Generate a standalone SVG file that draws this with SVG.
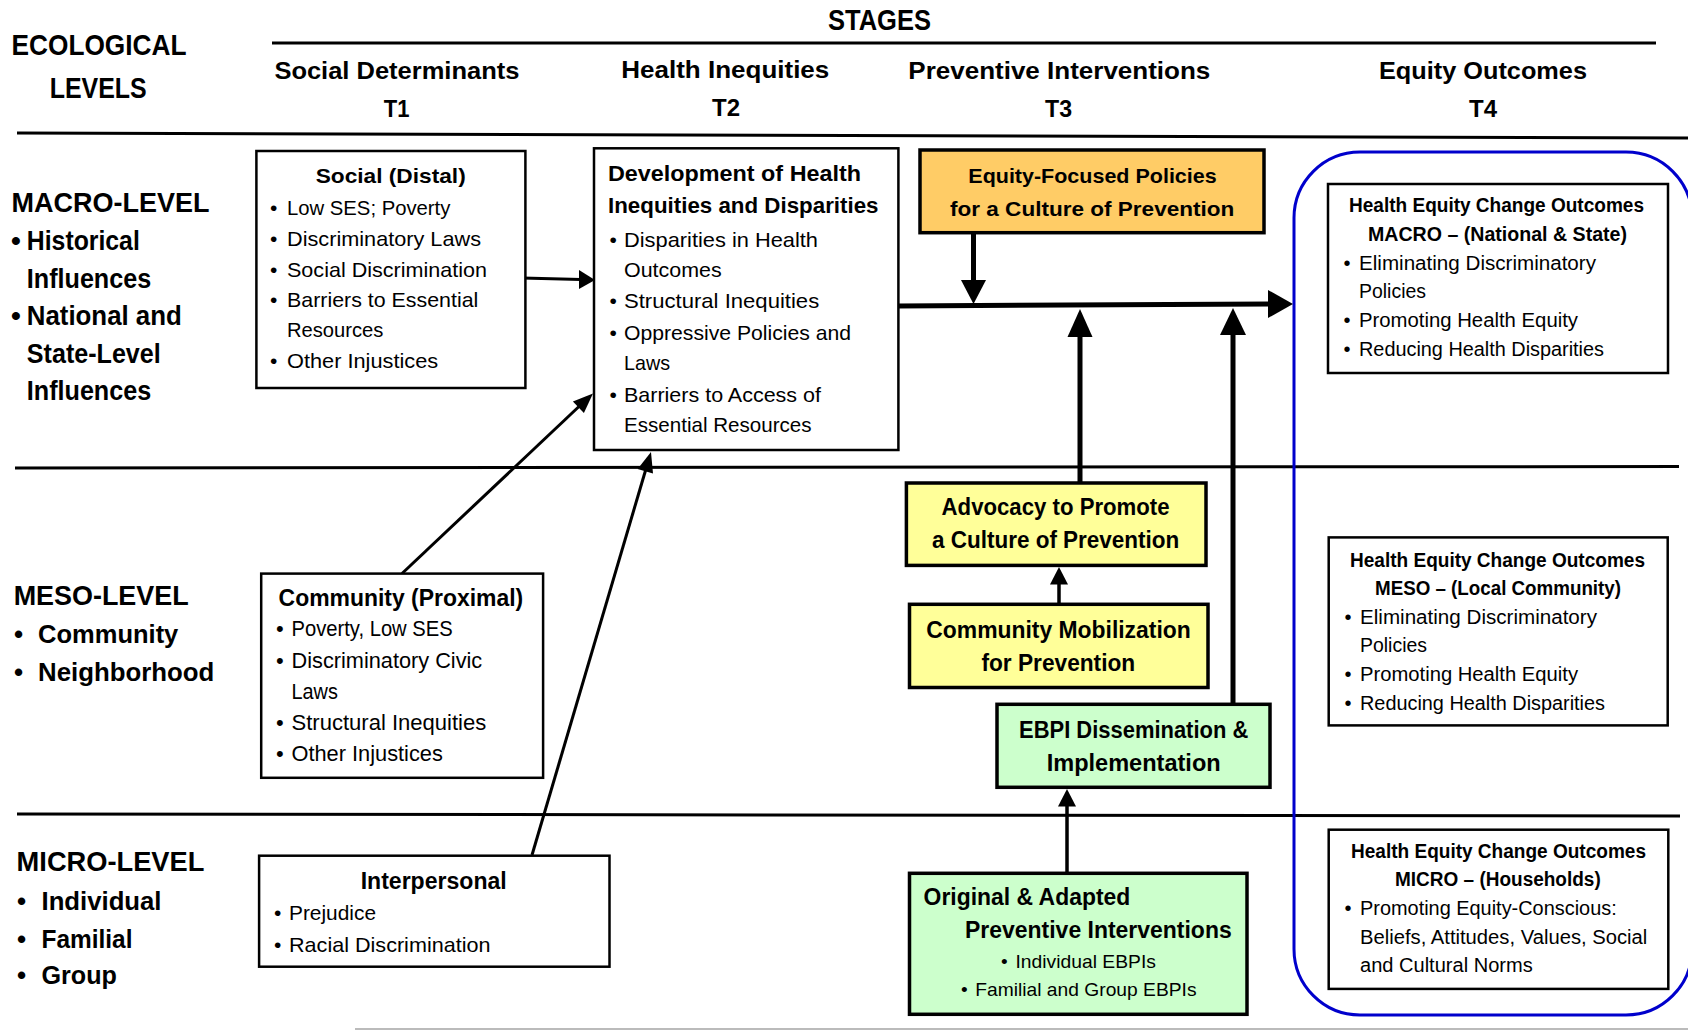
<svg xmlns="http://www.w3.org/2000/svg" width="1688" height="1030" viewBox="0 0 1688 1030">
<style>
text{font-family:"Liberation Sans",Arial,sans-serif;fill:#000}
.b{font-weight:bold}
.h1{font-size:30px;font-weight:bold}
.h2{font-size:24.5px;font-weight:bold}
.lv{font-size:28px;font-weight:bold}
.lb{font-size:26px;font-weight:bold}
.t21{font-size:21px}
.t22{font-size:22px}
.t20{font-size:20px}
.t19{font-size:19px}
.t23b{font-size:23px;font-weight:bold}
.t22b{font-size:22px;font-weight:bold}
.t21b{font-size:21px;font-weight:bold}
.t20b{font-size:20px;font-weight:bold}
.box{fill:#fff;stroke:#000;stroke-width:2.5}
.cbox{stroke:#000;stroke-width:3.5}
.rule{stroke:#000;stroke-width:3;fill:none}
.conn line{stroke:#000}
.conn polygon{fill:#000;stroke:none}
</style>

<!-- rules -->
<g id="rules">
<line class="rule" x1="272" y1="43" x2="1656" y2="43"/>
<line class="rule" x1="17" y1="133" x2="1688" y2="138"/>
<line class="rule" x1="15" y1="468" x2="1679" y2="466.5"/>
<line class="rule" x1="17" y1="814" x2="1680" y2="816"/>
<line x1="355" y1="1029" x2="1688" y2="1029" stroke="#bbbbbb" stroke-width="2"/>
</g>

<!-- headers -->
<g id="header-ecological">
<text class="h1" x="11.5" y="55" textLength="175" lengthAdjust="spacingAndGlyphs">ECOLOGICAL</text>
<text class="h1" x="49.7" y="98.3" textLength="97" lengthAdjust="spacingAndGlyphs">LEVELS</text>
</g>
<g id="header-stages">
<text class="h1" x="828" y="30" textLength="103" lengthAdjust="spacingAndGlyphs">STAGES</text>
</g>
<g id="header-t1">
<text class="h2" x="274.4" y="79" textLength="245" lengthAdjust="spacingAndGlyphs">Social Determinants</text>
<text class="h2" x="383.8" y="117" textLength="25.7" lengthAdjust="spacingAndGlyphs">T1</text>
</g>
<g id="header-t2">
<text class="h2" x="621.3" y="78" textLength="208" lengthAdjust="spacingAndGlyphs">Health Inequities</text>
<text class="h2" x="712" y="116" textLength="28" lengthAdjust="spacingAndGlyphs">T2</text>
</g>
<g id="header-t3">
<text class="h2" x="908.3" y="79" textLength="302" lengthAdjust="spacingAndGlyphs">Preventive Interventions</text>
<text class="h2" x="1045" y="116.7" textLength="27" lengthAdjust="spacingAndGlyphs">T3</text>
</g>
<g id="header-t4">
<text class="h2" x="1379" y="79" textLength="208" lengthAdjust="spacingAndGlyphs">Equity Outcomes</text>
<text class="h2" x="1469" y="117" textLength="28" lengthAdjust="spacingAndGlyphs">T4</text>
</g>

<!-- level labels -->
<g id="level-macro">
<text class="lv" x="11.5" y="212" textLength="198" lengthAdjust="spacingAndGlyphs">MACRO-LEVEL</text>
<text class="lv" x="11" y="250">•</text>
<text class="lv" x="26.8" y="250" textLength="113" lengthAdjust="spacingAndGlyphs">Historical</text>
<text class="lv" x="26.8" y="288" textLength="124.4" lengthAdjust="spacingAndGlyphs">Influences</text>
<text class="lv" x="11" y="325">•</text>
<text class="lv" x="26.8" y="325" textLength="155" lengthAdjust="spacingAndGlyphs">National and</text>
<text class="lv" x="26.8" y="363" textLength="134" lengthAdjust="spacingAndGlyphs">State-Level</text>
<text class="lv" x="26.8" y="400" textLength="124.4" lengthAdjust="spacingAndGlyphs">Influences</text>
</g>
<g id="level-meso">
<text class="lv" x="13.7" y="604.8" textLength="175" lengthAdjust="spacingAndGlyphs">MESO-LEVEL</text>
<text class="lb" x="14" y="643">•</text>
<text class="lb" x="38.1" y="643" textLength="140.2" lengthAdjust="spacingAndGlyphs">Community</text>
<text class="lb" x="14" y="681">•</text>
<text class="lb" x="38.1" y="681" textLength="176.2" lengthAdjust="spacingAndGlyphs">Neighborhood</text>
</g>
<g id="level-micro">
<text class="lv" x="16.6" y="871" textLength="187.8" lengthAdjust="spacingAndGlyphs">MICRO-LEVEL</text>
<text class="lb" x="17" y="910">•</text>
<text class="lb" x="41.5" y="910" textLength="120" lengthAdjust="spacingAndGlyphs">Individual</text>
<text class="lb" x="17" y="948">•</text>
<text class="lb" x="41.5" y="948" textLength="91" lengthAdjust="spacingAndGlyphs">Familial</text>
<text class="lb" x="17" y="984">•</text>
<text class="lb" x="41.5" y="984" textLength="75.4" lengthAdjust="spacingAndGlyphs">Group</text>
</g>

<!-- blue outcome frame -->
<g id="outcome-frame">
<rect x="1294" y="152" width="398" height="863" rx="66" ry="66" fill="none" stroke="#0000cc" stroke-width="3"/>
</g>

<!-- connectors -->
<g id="connectors" class="conn">
<line x1="522" y1="278" x2="581" y2="279.5" stroke-width="3"/>
<polygon points="579,270 595,280 579,289"/>
<line x1="402" y1="573.5" x2="579" y2="406.5" stroke-width="3"/>
<polygon points="593,393.5 583.9,413 572.9,401.4"/>
<line x1="532" y1="855" x2="645.5" y2="470.5" stroke-width="3"/>
<polygon points="651,452 653,473.5 637.6,468.9"/>
<line x1="973.5" y1="233" x2="973.5" y2="282" stroke-width="5"/>
<polygon points="961,280 986,280 973.5,304"/>
<line x1="898" y1="306" x2="1270" y2="304" stroke-width="5"/>
<polygon points="1268,290 1293,304 1268,318"/>
<line x1="1080" y1="483" x2="1080" y2="335" stroke-width="5"/>
<polygon points="1067.5,337 1092.5,337 1080,309"/>
<line x1="1233" y1="704" x2="1233" y2="333" stroke-width="5"/>
<polygon points="1220,335 1246,335 1233,308"/>
<line x1="1059" y1="604" x2="1059" y2="583" stroke-width="3.5"/>
<polygon points="1050,584.5 1068,584.5 1059,567"/>
<line x1="1067" y1="873" x2="1067" y2="805" stroke-width="3.5"/>
<polygon points="1058,806.5 1076,806.5 1067,789"/>
</g>

<!-- T1 boxes -->
<g id="node-social-distal">
<rect class="box" x="256.4" y="151" width="269" height="237"/>
<text class="t21b" x="315.7" y="183" textLength="150" lengthAdjust="spacingAndGlyphs">Social (Distal)</text>
<text class="t21" x="270" y="215">•</text>
<text class="t21" x="287" y="215" textLength="163.4" lengthAdjust="spacingAndGlyphs">Low SES; Poverty</text>
<text class="t21" x="270" y="246">•</text>
<text class="t21" x="287" y="246" textLength="194" lengthAdjust="spacingAndGlyphs">Discriminatory Laws</text>
<text class="t21" x="270" y="277">•</text>
<text class="t21" x="287" y="277" textLength="200" lengthAdjust="spacingAndGlyphs">Social Discrimination</text>
<text class="t21" x="270" y="307">•</text>
<text class="t21" x="287" y="307" textLength="191.3" lengthAdjust="spacingAndGlyphs">Barriers to Essential</text>
<text class="t21" x="287" y="337" textLength="96.4" lengthAdjust="spacingAndGlyphs">Resources</text>
<text class="t21" x="270" y="368">•</text>
<text class="t21" x="287" y="368" textLength="151.2" lengthAdjust="spacingAndGlyphs">Other Injustices</text>
</g>

<g id="node-community-proximal">
<rect class="box" x="261.2" y="573.6" width="281.9" height="204.2"/>
<text class="t23b" x="278.6" y="605.5" textLength="244.6" lengthAdjust="spacingAndGlyphs">Community (Proximal)</text>
<text class="t22" x="276" y="636.4">•</text>
<text class="t22" x="291.5" y="636.4" textLength="161.2" lengthAdjust="spacingAndGlyphs">Poverty, Low SES</text>
<text class="t22" x="276" y="667.6">•</text>
<text class="t22" x="291.5" y="667.6" textLength="190.7" lengthAdjust="spacingAndGlyphs">Discriminatory Civic</text>
<text class="t22" x="291.5" y="698.8" textLength="46.4" lengthAdjust="spacingAndGlyphs">Laws</text>
<text class="t22" x="276" y="729.7">•</text>
<text class="t22" x="291.5" y="729.7" textLength="194.8" lengthAdjust="spacingAndGlyphs">Structural Inequities</text>
<text class="t22" x="276" y="760.5">•</text>
<text class="t22" x="291.5" y="760.5" textLength="151.3" lengthAdjust="spacingAndGlyphs">Other Injustices</text>
</g>

<g id="node-interpersonal">
<rect class="box" x="259.1" y="855.7" width="350.4" height="111"/>
<text class="t23b" x="360.7" y="888.5" textLength="146" lengthAdjust="spacingAndGlyphs">Interpersonal</text>
<text class="t21" x="274" y="919.7">•</text>
<text class="t21" x="289" y="919.7" textLength="87" lengthAdjust="spacingAndGlyphs">Prejudice</text>
<text class="t21" x="274" y="951.7">•</text>
<text class="t21" x="289" y="951.7" textLength="201.5" lengthAdjust="spacingAndGlyphs">Racial Discrimination</text>
</g>

<!-- T2 box -->
<g id="node-health-inequities">
<rect class="box" x="594" y="148.3" width="304.4" height="301.7"/>
<text class="t22b" x="608" y="181" textLength="253" lengthAdjust="spacingAndGlyphs">Development of Health</text>
<text class="t22b" x="608" y="213.3" textLength="270.5" lengthAdjust="spacingAndGlyphs">Inequities and Disparities</text>
<text class="t21" x="609.5" y="247">•</text>
<text class="t21" x="624" y="247" textLength="194" lengthAdjust="spacingAndGlyphs">Disparities in Health</text>
<text class="t21" x="624" y="277" textLength="97.6" lengthAdjust="spacingAndGlyphs">Outcomes</text>
<text class="t21" x="609.5" y="308">•</text>
<text class="t21" x="624" y="308" textLength="195.2" lengthAdjust="spacingAndGlyphs">Structural Inequities</text>
<text class="t21" x="609.5" y="340">•</text>
<text class="t21" x="624" y="340" textLength="227" lengthAdjust="spacingAndGlyphs">Oppressive Policies and</text>
<text class="t21" x="624" y="370" textLength="46" lengthAdjust="spacingAndGlyphs">Laws</text>
<text class="t21" x="609.5" y="402">•</text>
<text class="t21" x="624" y="402" textLength="197" lengthAdjust="spacingAndGlyphs">Barriers to Access of</text>
<text class="t21" x="624" y="432" textLength="187.5" lengthAdjust="spacingAndGlyphs">Essential Resources</text>
</g>

<!-- T3 boxes -->
<g id="node-equity-policies">
<rect class="cbox" x="920" y="150" width="344" height="82.7" fill="#ffcc66"/>
<text class="t21b" x="968.3" y="183.3" textLength="248.4" lengthAdjust="spacingAndGlyphs">Equity-Focused Policies</text>
<text class="t21b" x="950" y="216" textLength="284.3" lengthAdjust="spacingAndGlyphs">for a Culture of Prevention</text>
</g>
<g id="node-advocacy">
<rect class="cbox" x="906.4" y="483" width="299.6" height="82.4" fill="#ffff99"/>
<text class="t23b" x="941.6" y="514.5" textLength="228" lengthAdjust="spacingAndGlyphs">Advocacy to Promote</text>
<text class="t23b" x="932" y="548.3" textLength="247.3" lengthAdjust="spacingAndGlyphs">a Culture of Prevention</text>
</g>
<g id="node-mobilization">
<rect class="cbox" x="909.5" y="604.3" width="298.5" height="83.2" fill="#ffff99"/>
<text class="t23b" x="926.3" y="638" textLength="264.4" lengthAdjust="spacingAndGlyphs">Community Mobilization</text>
<text class="t23b" x="981.4" y="670.8" textLength="153.8" lengthAdjust="spacingAndGlyphs">for Prevention</text>
</g>
<g id="node-ebpi">
<rect class="cbox" x="997" y="704.3" width="273" height="83" fill="#ccffcc"/>
<text class="t23b" x="1019" y="738.3" textLength="229.3" lengthAdjust="spacingAndGlyphs">EBPI Dissemination &amp;</text>
<text class="t23b" x="1046.7" y="771" textLength="174" lengthAdjust="spacingAndGlyphs">Implementation</text>
</g>
<g id="node-original">
<rect class="cbox" x="909.5" y="873.3" width="337.5" height="141" fill="#ccffcc"/>
<text class="t23b" x="923.6" y="905.3" textLength="206.7" lengthAdjust="spacingAndGlyphs">Original &amp; Adapted</text>
<text class="t23b" x="965" y="938" textLength="266.7" lengthAdjust="spacingAndGlyphs">Preventive Interventions</text>
<text class="t19" x="1001" y="968.2">•</text>
<text class="t19" x="1015.5" y="968.2" textLength="140.4" lengthAdjust="spacingAndGlyphs">Individual EBPIs</text>
<text class="t19" x="961" y="996.2">•</text>
<text class="t19" x="975.3" y="996.2" textLength="221.2" lengthAdjust="spacingAndGlyphs">Familial and Group EBPIs</text>
</g>

<!-- T4 boxes -->
<g id="node-outcome-macro">
<rect class="box" x="1328" y="184" width="340" height="189"/>
<text class="t20b" x="1349" y="212" textLength="295" lengthAdjust="spacingAndGlyphs">Health Equity Change Outcomes</text>
<text class="t20b" x="1368" y="241" textLength="259" lengthAdjust="spacingAndGlyphs">MACRO – (National &amp; State)</text>
<text class="t20" x="1343.5" y="270">•</text>
<text class="t20" x="1359" y="270" textLength="237" lengthAdjust="spacingAndGlyphs">Eliminating Discriminatory</text>
<text class="t20" x="1359" y="298" textLength="67" lengthAdjust="spacingAndGlyphs">Policies</text>
<text class="t20" x="1343.5" y="327">•</text>
<text class="t20" x="1359" y="327" textLength="219" lengthAdjust="spacingAndGlyphs">Promoting Health Equity</text>
<text class="t20" x="1343.5" y="356">•</text>
<text class="t20" x="1359" y="356" textLength="245" lengthAdjust="spacingAndGlyphs">Reducing Health Disparities</text>
</g>
<g id="node-outcome-meso">
<rect class="box" x="1328.7" y="537.4" width="339" height="188"/>
<text class="t20b" x="1350" y="566.5" textLength="295" lengthAdjust="spacingAndGlyphs">Health Equity Change Outcomes</text>
<text class="t20b" x="1375" y="595.2" textLength="246" lengthAdjust="spacingAndGlyphs">MESO – (Local Community)</text>
<text class="t20" x="1344.5" y="624.3">•</text>
<text class="t20" x="1360" y="624.3" textLength="237" lengthAdjust="spacingAndGlyphs">Eliminating Discriminatory</text>
<text class="t20" x="1360" y="651.6" textLength="67" lengthAdjust="spacingAndGlyphs">Policies</text>
<text class="t20" x="1344.5" y="680.6">•</text>
<text class="t20" x="1360" y="680.6" textLength="218" lengthAdjust="spacingAndGlyphs">Promoting Health Equity</text>
<text class="t20" x="1344.5" y="710.1">•</text>
<text class="t20" x="1360" y="710.1" textLength="245" lengthAdjust="spacingAndGlyphs">Reducing Health Disparities</text>
</g>
<g id="node-outcome-micro">
<rect class="box" x="1328.7" y="829.7" width="339.6" height="159.2"/>
<text class="t20b" x="1351" y="858" textLength="295" lengthAdjust="spacingAndGlyphs">Health Equity Change Outcomes</text>
<text class="t20b" x="1395" y="886.4" textLength="205.7" lengthAdjust="spacingAndGlyphs">MICRO – (Households)</text>
<text class="t20" x="1344.5" y="915.1">•</text>
<text class="t20" x="1360" y="915.1" textLength="256.7" lengthAdjust="spacingAndGlyphs">Promoting Equity-Conscious:</text>
<text class="t20" x="1360" y="944.2" textLength="287.3" lengthAdjust="spacingAndGlyphs">Beliefs, Attitudes, Values, Social</text>
<text class="t20" x="1360" y="971.8" textLength="172.7" lengthAdjust="spacingAndGlyphs">and Cultural Norms</text>
</g>
</svg>
